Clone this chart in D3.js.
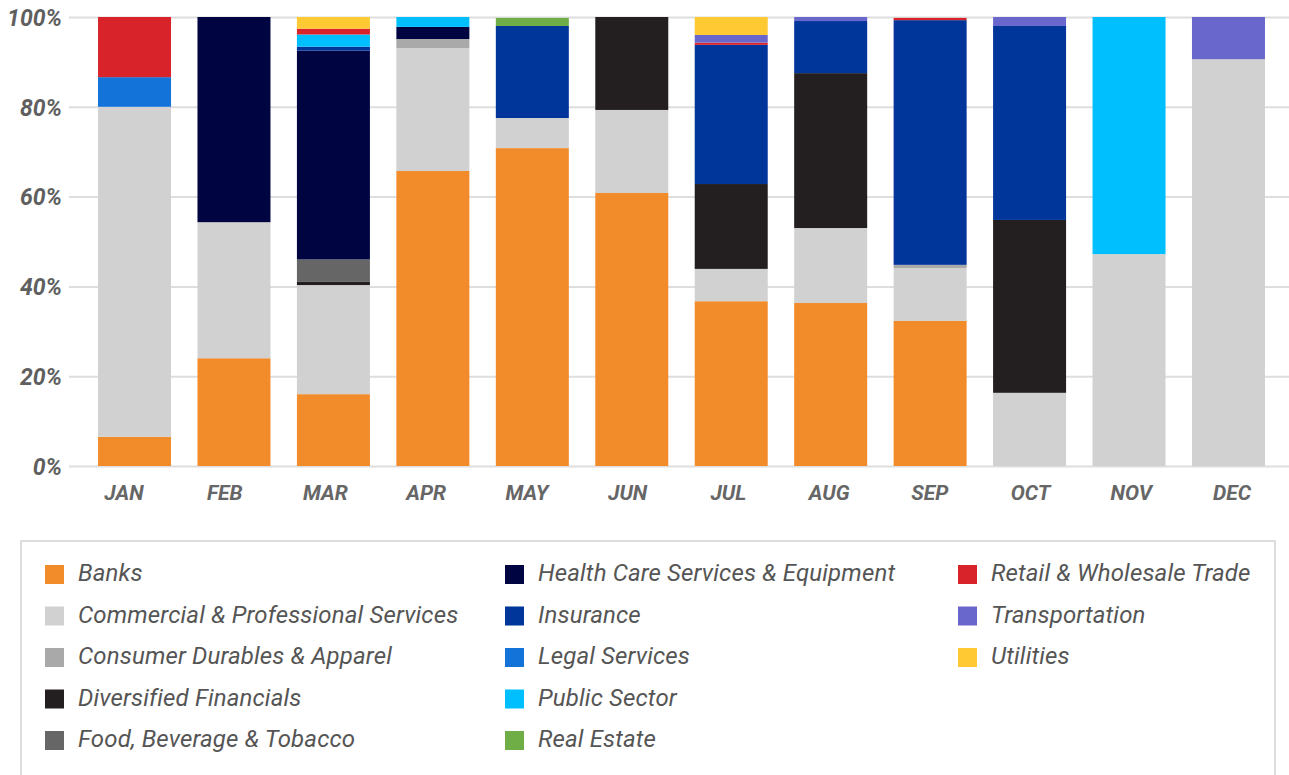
<!DOCTYPE html>
<html>
<head>
<meta charset="utf-8">
<script src="https://cdn.jsdelivr.net/npm/d3@7"></script>
<style>
  body { margin: 0; background: #fff; }
  svg { display: block; font-family: Roboto, "Open Sans", sans-serif; }
</style>
</head>
<body>
<svg id="chart" width="1289" height="775"></svg>
<script>
// donnees (en %)
const months = ["JAN", "FEB", "MAR", "APR", "MAY", "JUN", "JUL", "AUG", "SEP", "OCT", "NOV", "DEC"];
const sectors = ["Banks", "Commercial & Professional Services", "Consumer Durables & Apparel",
  "Diversified Financials", "Food, Beverage & Tobacco", "Health Care Services & Equipment",
  "Insurance", "Legal Services", "Public Sector", "Real Estate", "Retail & Wholesale Trade",
  "Transportation", "Utilities"];
const colors = ["#f28c2b", "#d1d1d1", "#a9a9a9", "#231f20", "#666666", "#000441",
  "#00359a", "#1473d9", "#00bfff", "#6fad47", "#d9232a", "#6a67cc", "#ffc933"];

// une valeur par mois
const banks         = [6.5, 24.0, 16.0, 65.7, 70.8, 60.8, 36.7, 36.3, 32.3, 0, 0, 0];
const commercial    = [73.5, 30.3, 24.3, 27.4, 6.7, 18.5, 7.2, 16.7, 11.8, 16.3, 47.2, 90.6];
const consumer      = [0, 0, 0, 2.0, 0, 0, 0, 0, 0.7, 0, 0, 0];
const diversified   = [0, 0, 0.7, 0, 0, 20.7, 18.9, 34.5, 0, 38.5, 0, 0];
const food          = [0, 0, 5.0, 0, 0, 0, 0, 0, 0, 0, 0, 0];
const healthCare    = [0, 45.7, 46.5, 2.7, 0, 0, 0, 0, 0, 0, 0, 0];
const insurance     = [0, 0, 0.9, 0, 20.5, 0, 31.0, 11.6, 54.5, 43.2, 0, 0];
const legal         = [6.6, 0, 0, 0, 0, 0, 0, 0, 0, 0, 0, 0];
const publicSector  = [0, 0, 2.7, 2.2, 0, 0, 0, 0, 0, 0, 52.8, 0];
const realEstate    = [0, 0, 0, 0, 1.8, 0, 0, 0, 0, 0, 0, 0];
const retail        = [13.4, 0, 1.3, 0, 0, 0, 0.5, 0, 0.5, 0, 0, 0];
const transport     = [0, 0, 0, 0, 0, 0, 1.7, 0.9, 0, 2.0, 0, 9.4];
const utilities     = [0, 0, 2.6, 0, 0, 0, 4.0, 0, 0, 0, 0, 0];
const yTicks = [0, 20, 40, 60, 80, 100];

const series = [banks, commercial, consumer, diversified, food, healthCare, insurance,
  legal, publicSector, realEstate, retail, transport, utilities];

const rows = months.map((m, i) => {
  const r = { month: m };
  sectors.forEach((s, k) => r[s] = series[k][i]);
  return r;
});

const svg = d3.select("#chart");

const x = d3.scaleBand().domain(months).range([84.8, 1278.2]).paddingInner(0.266).paddingOuter(0.133);
// les etiquettes du mois ne sont pas tout a fait centrees sur les barres
const xLabel = d3.scaleBand().domain(months).range([73.6, 1282.4]);
const y = d3.scaleLinear().domain([0, 100]).range([466, 17]);

// grille
svg.append("g")
  .selectAll("line")
  .data(yTicks)
  .enter()
  .append("line")
  .attr("x1", 69)
  .attr("x2", 1289)
  .attr("y1", d => y(d) + 0.5)
  .attr("y2", d => y(d) + 0.5)
  .style("stroke", "#dedede")
  .style("stroke-width", 2);

// barres empilees
const stacked = d3.stack().keys(sectors)(rows);
svg.append("g")
  .selectAll("g")
  .data(stacked)
  .enter()
  .append("g")
  .attr("fill", (d, i) => colors[i])
  .selectAll("rect")
  .data(d => d)
  .enter()
  .append("rect")
  .attr("x", d => x(d.data.month))
  .attr("width", x.bandwidth())
  .attr("y", d => y(Math.min(100, d[1])))
  .attr("height", d => Math.max(0, y(d[0]) - y(Math.min(100, d[1]))));

// axe y
const yAxis = svg.append("g")
  .attr("transform", "translate(62,1)")
  .call(d3.axisLeft(y).tickValues(yTicks).tickFormat(d => d + "%").tickSize(0).tickPadding(0));
yAxis.select(".domain").remove();
yAxis.selectAll("text")
  .style("font-family", "Roboto")
  .style("font-size", "23px")
  .style("font-weight", "bold")
  .style("font-style", "italic")
  .style("fill", "#5f5f5f");

// axe x
const xAxis = svg.append("g")
  .attr("transform", "translate(0,485)")
  .call(d3.axisBottom(xLabel).tickSize(0).tickPadding(0));
xAxis.select(".domain").remove();
xAxis.selectAll("text")
  .attr("dy", "0.71em")
  .style("font-family", "Roboto")
  .style("font-size", "21px")
  .style("font-weight", "bold")
  .style("font-style", "italic")
  .style("fill", "#666");

// legende
svg.append("rect")
  .attr("x", 21)
  .attr("y", 541)
  .attr("width", 1254)
  .attr("height", 260)
  .style("fill", "#fff")
  .style("stroke", "#dddddd")
  .style("stroke-width", 2);

const colX = [45, 505, 958];
const legend = svg.append("g")
  .selectAll("g")
  .data(sectors)
  .enter()
  .append("g")
  .attr("transform", (d, i) => `translate(${colX[Math.floor(i / 5)]},${574.5 + (i % 5) * 41.5})`);

legend.append("rect")
  .attr("x", 0)
  .attr("y", -9.5)
  .attr("width", 19)
  .attr("height", 19)
  .attr("fill", (d, i) => colors[i]);

legend.append("text")
  .attr("x", 33)
  .attr("y", 6.5)
  .text(d => d)
  .style("font-family", "Roboto")
  .style("font-size", "24px")
  .style("font-style", "italic")
  .style("letter-spacing", "0.15px")
  .style("fill", "#555");
</script>
</body>
</html>
